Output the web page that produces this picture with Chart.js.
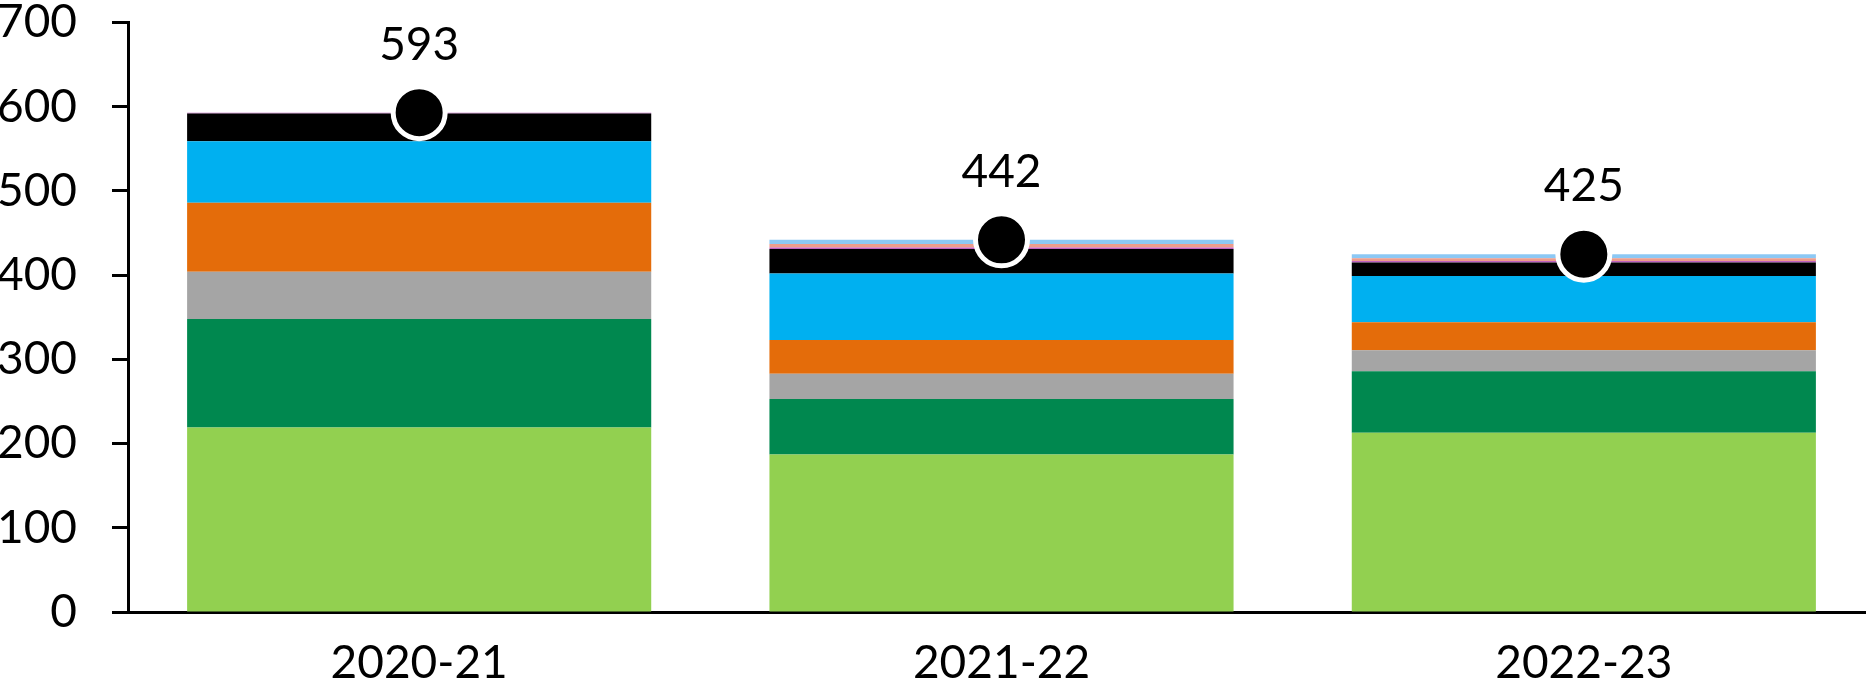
<!DOCTYPE html>
<html>
<head>
<meta charset="utf-8">
<script src="https://cdn.jsdelivr.net/npm/chart.js@4/dist/chart.umd.min.js"></script>
<style>
  html, body { margin: 0; padding: 0; background: #fff; overflow: hidden; }
  #wrap { width: 1866px; height: 693px; overflow: hidden; position: relative; }
  #c { position: absolute; left: 0; top: -40px; }
</style>
</head>
<body>
<div id="wrap"><canvas id="c" width="1906" height="733"></canvas></div>
<script>
// Years on the category axis
const years = ['2020-21', '2021-22', '2022-23'];

// Stacked components, bottom to top
const segLightGreen = [219, 187, 213];
const segDarkGreen  = [129, 66, 73];
const segGrey       = [56, 30, 25];
const segOrange     = [82, 40, 33];
const segBlue       = [73, 79, 55];
const segBlack      = [33, 29, 16];
const segPurple     = [1, 2, 2];
const segSalmon     = [0, 4, 3];
const segPaleBlue   = [0, 5, 5];

// Totals shown as dots with a label above
const totals = [593, 442, 425];

// Value-axis ticks
const yTicks = [0, 100, 200, 300, 400, 500, 600, 700];

const FONT = 'Lato, "Open Sans", sans-serif';
const FONT_SIZE = 46;

const segments = [
  { data: segLightGreen, color: '#92D050' },
  { data: segDarkGreen,  color: '#00884F' },
  { data: segGrey,       color: '#A5A5A5' },
  { data: segOrange,     color: '#E46C0A' },
  { data: segBlue,       color: '#00B0F0' },
  { data: segBlack,      color: '#000000' },
  { data: segPurple,     color: '#C060C0' },
  { data: segSalmon,     color: '#EE9C8C' },
  { data: segPaleBlue,   color: '#8CC8F4' }
];

const barSets = segments.map(s => ({
  type: 'bar',
  data: s.data,
  backgroundColor: s.color,
  borderWidth: 0,
  stack: 'parts',
  order: 1,
  categoryPercentage: 1.0,
  barPercentage: 0.797
}));

const totalSet = {
  type: 'line',
  data: totals,
  stack: 'total',
  order: 0,
  showLine: false,
  pointRadius: 26,
  pointHoverRadius: 26,
  pointBackgroundColor: '#000000',
  pointBorderColor: '#ffffff',
  pointBorderWidth: 5
};

// Writes each total above its dot
const totalLabels = {
  id: 'totalLabels',
  afterDatasetsDraw(chart) {
    const idx = chart.data.datasets.indexOf(totalSet);
    const meta = chart.getDatasetMeta(idx);
    const ctx = chart.ctx;
    ctx.save();
    ctx.font = FONT_SIZE + 'px ' + FONT;
    ctx.fillStyle = '#000';
    ctx.textAlign = 'center';
    ctx.textBaseline = 'middle';
    meta.data.forEach((pt, i) => {
      ctx.fillText(String(totals[i]), pt.x, pt.y - 68);
    });
    ctx.restore();
  }
};

new Chart(document.getElementById('c'), {
  data: { labels: years, datasets: [...barSets, totalSet] },
  options: {
    responsive: false,
    animation: false,
    layout: { padding: { top: 23, right: 0, bottom: 0, left: 0 } },
    plugins: { legend: { display: false }, tooltip: { enabled: false } },
    scales: {
      x: {
        stacked: true,
        grid: { display: false, drawTicks: false },
        border: { display: true, color: '#000', width: 3 },
        ticks: { font: { family: FONT, size: FONT_SIZE }, color: '#000', padding: 24 },
        afterFit(scale) { scale.height = 81; }
      },
      y: {
        stacked: true,
        min: 0,
        max: 700,
        afterBuildTicks(scale) { scale.ticks = yTicks.map(v => ({ value: v })); },
        grid: {
          drawOnChartArea: false,
          drawTicks: true,
          tickLength: 16,
          tickColor: '#000',
          tickWidth: 3
        },
        border: { display: true, color: '#000', width: 3 },
        ticks: { font: { family: FONT, size: FONT_SIZE }, color: '#000', padding: 35 },
        afterFit(scale) { scale.width = 128; }
      }
    }
  },
  plugins: [totalLabels]
});
</script>
</body>
</html>
